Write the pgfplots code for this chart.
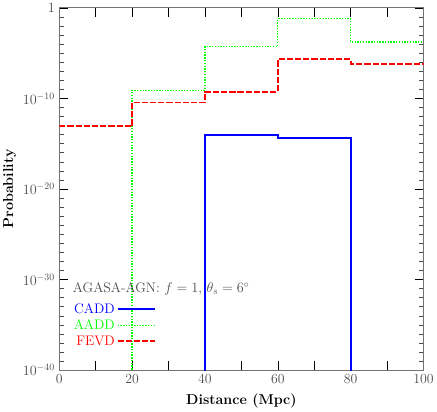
\documentclass[border=0pt]{standalone}
\usepackage{pgfplots}
\pgfplotsset{compat=1.18}
\definecolor{cblue}{RGB}{0,0,255}
\definecolor{cgreen}{RGB}{0,255,0}
\definecolor{cred}{RGB}{255,0,0}
\begin{document}
\begin{tikzpicture}
\begin{axis}[
  scale only axis,
  width=368bp, height=366bp,
  ymode=log,
  xmin=0, xmax=100,
  ymin=1e-40, ymax=1,
  xtick={0,10,...,100},
  xticklabels={0,,20,,40,,60,,80,,100},
  ytick={1e-40,1e-30,1e-20,1e-10,1},
  yticklabels={$10^{-40}$,$10^{-30}$,$10^{-20}$,$10^{-10}$,$1$},
  minor ytick={1e-39,1e-38,1e-37,1e-36,1e-35,1e-34,1e-33,1e-32,1e-31,
               1e-29,1e-28,1e-27,1e-26,1e-25,1e-24,1e-23,1e-22,1e-21,
               1e-19,1e-18,1e-17,1e-16,1e-15,1e-14,1e-13,1e-12,1e-11,
               1e-9,1e-8,1e-7,1e-6,1e-5,1e-4,1e-3,1e-2,1e-1},
  tick align=inside,
  major tick length=9bp,
  minor tick length=4.5bp,
  xtick pos=both, ytick pos=both,
  axis line style={black!55, line width=0.8pt},
  tick style={black, line width=0.6pt},
  minor tick style={black!70, line width=0.6pt},
  ticklabel style={font=\fontsize{14}{16}\selectfont, text=black!70},
  xticklabel style={yshift=-1bp},
  yticklabel style={xshift=-1bp},
  xlabel={\textbf{Distance (Mpc)}},
  ylabel={\textbf{Probability}},
  label style={font=\fontsize{14.5}{16}\selectfont},
  xlabel style={yshift=-3bp},
  ylabel style={yshift=0bp},
  legend style={draw=none, fill=none, at={(rel axis cs:0.026,0.196)}, anchor=north west,
    font=\fontsize{14}{16}\selectfont, row sep=1bp},
  legend cell align=right,
  legend plot pos=right,
  legend image code/.code={\draw[#1] (0.12cm,0cm) -- (1.45cm,0cm);},
  clip=true,
]
\addplot[cblue, line width=1.8pt, const plot] coordinates {
  (40,1e-50) (40,1e-14) (60,4e-15) (80,4e-15) (80,1e-50)
};
\addlegendentry{\textcolor{cblue}{CADD}}
\addplot[cgreen, line width=1.3pt, dash pattern=on 1.4pt off 1.4pt, const plot] coordinates {
  (20,1e-50) (20,8.2e-10) (40,5.6e-5) (60,6.2e-2) (80,1.7e-4) (100,1.7e-4)
};
\addlegendentry{\textcolor{cgreen}{AADD}}
\addplot[cred, line width=1.8pt, dash pattern=on 6.3pt off 2pt, const plot] coordinates {
  (0,8.3e-14) (20,3.6e-11) (40,5.5e-10) (60,2.1e-6) (80,7e-7) (100,7e-7)
};
\addlegendentry{\textcolor{cred}{FEVD}}
\node[anchor=west, font=\fontsize{14}{16}\selectfont, text=black!70, inner sep=0pt] at (rel axis cs:0.037,0.225)
  {AGASA-AGN: $f=1$, $\theta_s=6^\circ$};
\end{axis}
\end{tikzpicture}
\end{document}
